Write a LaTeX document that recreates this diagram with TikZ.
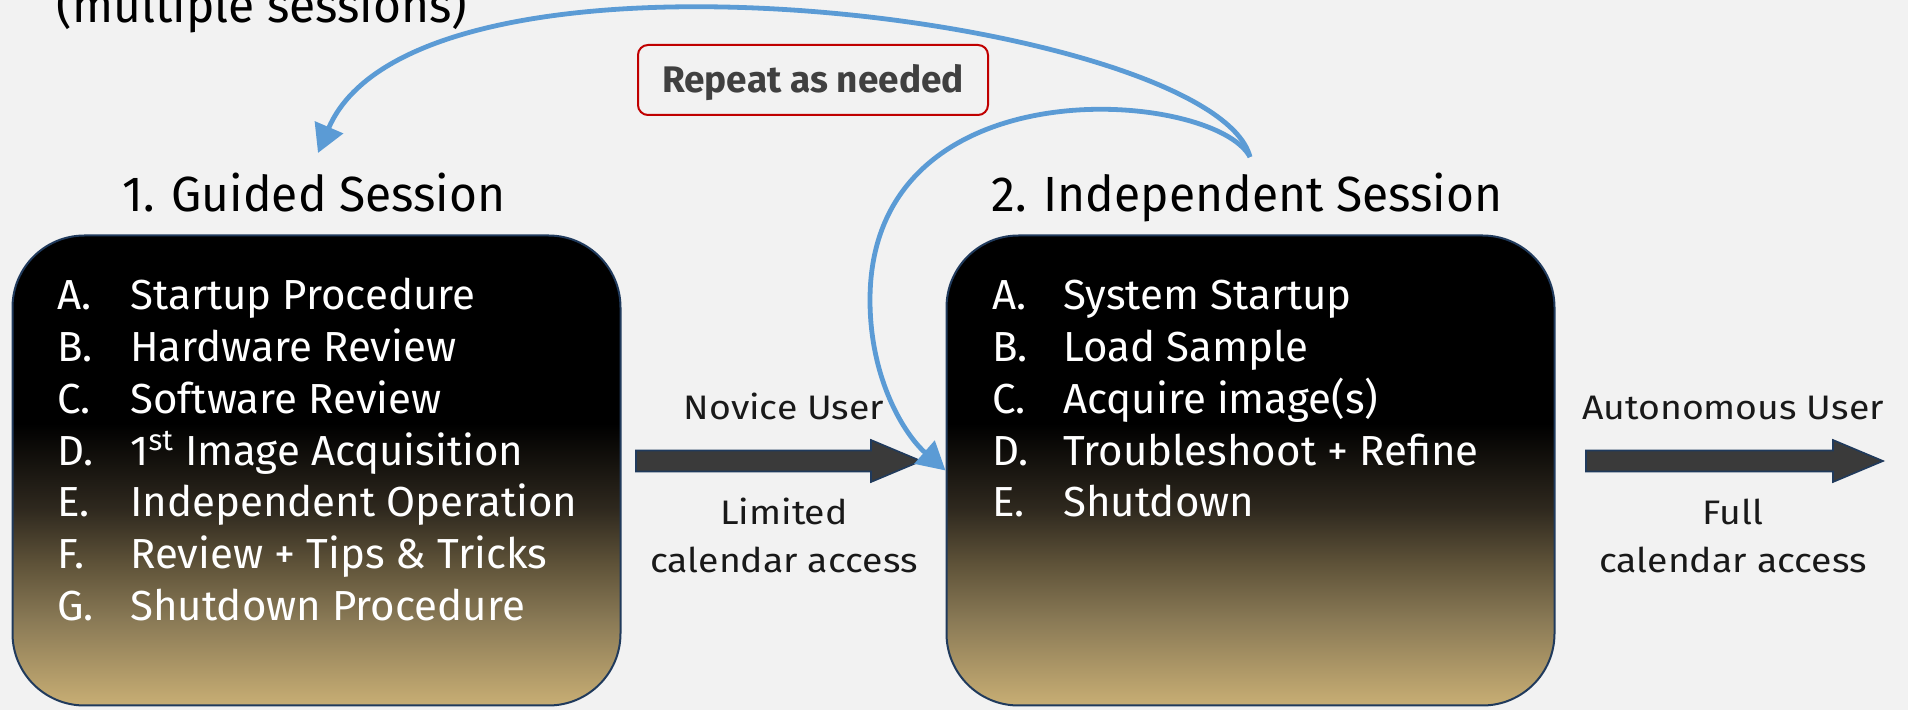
\documentclass[tikz,border=0pt]{standalone}
\usepackage{fontspec}
\setmainfont{Fira Sans}
\newfontfamily\listfont[FakeStretch=1.0]{Fira Sans}
\newfontfamily\headfont[FakeStretch=0.97]{Fira Sans}
\newfontfamily\userfont[FakeStretch=1.1]{Fira Sans}
\newfontfamily\notefont[FakeStretch=1.0]{Fira Sans}
\usetikzlibrary{arrows.meta}
\usetikzlibrary{calc}
\pgfdeclarelayer{bglayer}
\pgfdeclarelayer{edgelayer}
\pgfdeclarelayer{nodelayer}
\pgfsetlayers{bglayer,edgelayer,nodelayer,main}
\definecolor{paper}{HTML}{F2F2F2}
\definecolor{sandtan}{HTML}{C8AE74}
\definecolor{sand82}{HTML}{8A7A56}
\definecolor{sand70}{HTML}{5F5339}
\definecolor{sand58}{HTML}{2E281E}
\definecolor{boxedge}{HTML}{203A5C}
\definecolor{loopblue}{HTML}{5B9BD5}
\definecolor{shaftgray}{HTML}{3A3A3A}
\definecolor{notered}{HTML}{C00000}
\definecolor{notegray}{HTML}{404040}
\pgfdeclareverticalshading{sessionfade}{100bp}{color(0bp)=(sandtan); color(25bp)=(sandtan); color(34bp)=(sand82); color(40bp)=(sand70); color(46bp)=(sand58); color(55bp)=(black); color(100bp)=(black)}
\tikzstyle{session}=[rectangle,rounded corners=36pt,shading=sessionfade,draw=boxedge,line width=1pt,minimum width=304pt,minimum height=235pt]
\tikzstyle{heading}=[font=\headfont\fontsize{24.7}{30}\selectfont,anchor=base,inner sep=0pt]
\tikzstyle{item}=[font=\listfont\fontsize{21}{26}\selectfont,text=white,anchor=base west,inner sep=0pt]
\tikzstyle{usertext}=[font=\userfont\fontsize{17}{20}\selectfont,text=black!90,anchor=base,inner sep=0pt]
\tikzstyle{note}=[rectangle,rounded corners=5pt,draw=notered,line width=1pt,minimum width=175pt,minimum height=35pt,text height=12.5pt,text depth=0pt,font=\notefont\bfseries\fontsize{18.5}{22}\selectfont,text=notegray]
\tikzstyle{progress}=[fill=shaftgray,draw=boxedge,line width=0.8pt,
  to path={let \p1=(\tikztostart), \p2=(\tikztotarget) in
    (\x1,\y1+5.25pt) -- (\x2-25pt,\y2+5.25pt) -- (\x2-25pt,\y2+10.5pt) -- (\x2,\y2)
    -- (\x2-25pt,\y2-10.5pt) -- (\x2-25pt,\y2-5.25pt) -- (\x1,\y1-5.25pt) -- cycle}]
\tikzstyle{revisit}=[draw=loopblue,line width=2.4pt,-{Triangle[length=14pt,width=15pt]}]

\begin{document}
\begin{tikzpicture}[x=0.5pt,y=-0.5pt]
	\begin{pgfonlayer}{bglayer}
		\fill [paper] (0,0) rectangle (1908,710);
	\end{pgfonlayer}
	\useasboundingbox (0,0) rectangle (1908,710);
	\begin{pgfonlayer}{nodelayer}
		\node [style=heading] (multi) at (262,23) {(multiple sessions)};
		\node [style=note] (rep) at (813,80) {Repeat as needed};
		\node [style=heading] (t1) at (314,212) {1. Guided Session};
		\node [style=heading] (t2) at (1247,212) {2. Independent Session};
		\node [style=session] (s1) at (316.5,470.5) {};
		\node [style=session] (s2) at (1250.5,470.5) {};
		\foreach \tag/\txt [count=\i] in {A./Startup Procedure, B./Hardware Review,
			C./Software Review, D./{1\textsuperscript{st} Image Acquisition},
			E./Independent Operation, F./Review + Tips \& Tricks, G./Shutdown Procedure}
			\node [style=item] (g\i) at (57,{310+51.7*(\i-1)}) {\makebox[36.5pt][l]{\tag}\txt};
		\foreach \tag/\txt [count=\i] in {A./System Startup, B./Load Sample,
			C./Acquire image(s), D./Troubleshoot + Refine, E./Shutdown}
			\node [style=item] (k\i) at (992,{310+51.7*(\i-1)}) {\makebox[35.5pt][l]{\tag}\txt};
		\node [style=usertext] (nov) at (784,420) {Novice User};
		\node [style=usertext] (lim) at (784,525) {Limited};
		\node [style=usertext] (lim2) at (784,573) {calendar access};
		\node [style=usertext] (aut) at (1733,420) {Autonomous User};
		\node [style=usertext] (ful) at (1733,525) {Full};
		\node [style=usertext] (ful2) at (1733,573) {calendar access};
	\end{pgfonlayer}
	\coordinate (n1) at (636,461);
	\coordinate (n2) at (921,461);
	\coordinate (a1) at (1586,461);
	\coordinate (a2) at (1883,461);
	\coordinate (turn) at (1250,157);
	\coordinate (back) at (318,153);
	\begin{pgfonlayer}{edgelayer}
		\draw [style=progress] (n1) to (n2);
		\draw [style=progress] (a1) to (a2);
	\end{pgfonlayer}
	% loop back to the guided session, and on into the next independent one
	\draw [style=revisit] (turn) .. controls (1215,20) and (420,-85) .. (back);
	\draw [style=revisit] (turn) .. controls (1215,90) and (870,60) .. (870,300)
		.. controls (870,380) and (905,435) .. (s2.west);
\end{tikzpicture}
\end{document}
